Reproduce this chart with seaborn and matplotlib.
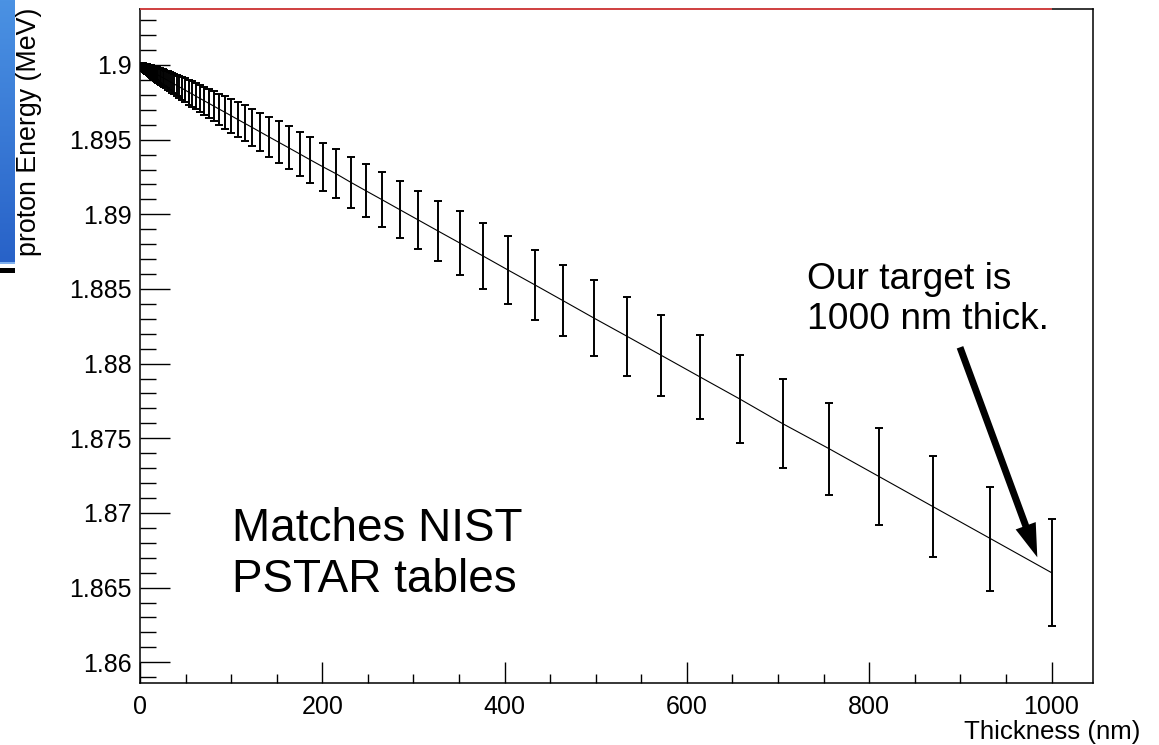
import matplotlib
matplotlib.use("Agg")
import numpy as np
import pandas as pd
import matplotlib.pyplot as plt
import seaborn as sns
from matplotlib.ticker import MultipleLocator, FuncFormatter
from matplotlib.patches import Rectangle
from matplotlib.colors import LinearSegmentedColormap

# ---------------- data ----------------
thickness_nm = [
    1.00, 1.07, 1.15, 1.23, 1.32, 1.42, 1.52, 1.63, 1.75, 1.87,
    2.01, 2.15, 2.31, 2.48, 2.66, 2.85, 3.05, 3.27, 3.51, 3.76,
    4.04, 4.33, 4.64, 4.98, 5.34, 5.72, 6.14, 6.58, 7.05, 7.56,
    8.11, 8.70, 9.33,
    10.0, 10.7, 11.5, 12.3, 13.2, 14.2, 15.2, 16.3, 17.5, 18.7,
    20.1, 21.5, 23.1, 24.8, 26.6, 28.5, 30.5, 32.7, 35.1, 37.6,
    40.4, 43.3, 46.4, 49.8, 53.4, 57.2, 61.4, 65.8, 70.5, 75.6,
    81.1, 87.0, 93.3,
    100, 107, 115, 123, 132, 142, 152, 163, 175, 187,
    201, 215, 231, 248, 266, 285, 305, 327, 351, 376,
    404, 433, 464, 498, 534, 572, 614, 658, 705, 756,
    811, 870, 933, 1000,
]

energy_mev = [
    1.89997, 1.89996, 1.89996, 1.89996, 1.89996, 1.89995, 1.89995, 1.89994, 1.89994, 1.89994,
    1.89993, 1.89993, 1.89992, 1.89992, 1.89991, 1.89990, 1.89990, 1.89989, 1.89988, 1.89987,
    1.89986, 1.89985, 1.89984, 1.89983, 1.89982, 1.89981, 1.89979, 1.89978, 1.89976, 1.89974,
    1.89972, 1.89970, 1.89968,
    1.89966, 1.89964, 1.89961, 1.89958, 1.89955, 1.89952, 1.89948, 1.89945, 1.89941, 1.89936,
    1.89932, 1.89927, 1.89921, 1.89916, 1.89910, 1.89903, 1.89896, 1.89889, 1.89881, 1.89872,
    1.89863, 1.89853, 1.89842, 1.89831, 1.89818, 1.89806, 1.89791, 1.89776, 1.89760, 1.89743,
    1.89724, 1.89704, 1.89683,
    1.89660, 1.89636, 1.89609, 1.89582, 1.89551, 1.89517, 1.89483, 1.89446, 1.89405, 1.89364,
    1.89317, 1.89272, 1.89215, 1.89157, 1.89096, 1.89031, 1.88963, 1.88888, 1.88807, 1.88722,
    1.88626, 1.88528, 1.88422, 1.88305, 1.88184, 1.88055, 1.87912, 1.87763, 1.87598, 1.87430,
    1.87243, 1.87042, 1.86828, 1.86600,
]

energy_err = [
    0.00011, 0.00012, 0.00012, 0.00013, 0.00013, 0.00013, 0.00014, 0.00014, 0.00015, 0.00015,
    0.00016, 0.00017, 0.00017, 0.00018, 0.00018, 0.00019, 0.00020, 0.00020, 0.00021, 0.00022,
    0.00023, 0.00024, 0.00024, 0.00025, 0.00026, 0.00027, 0.00028, 0.00029, 0.00030, 0.00031,
    0.00032, 0.00033, 0.00035,
    0.00036, 0.00037, 0.00038, 0.00040, 0.00041, 0.00043, 0.00044, 0.00046, 0.00047, 0.00049,
    0.00051, 0.00052, 0.00054, 0.00056, 0.00058, 0.00060, 0.00062, 0.00065, 0.00067, 0.00069,
    0.00072, 0.00074, 0.00077, 0.00080, 0.00083, 0.00085, 0.00089, 0.00092, 0.00095, 0.00098,
    0.00102, 0.00105, 0.00109,
    0.00113, 0.00117, 0.00121, 0.00125, 0.00130, 0.00135, 0.00139, 0.00144, 0.00149, 0.00155,
    0.00160, 0.00164, 0.00170, 0.00178, 0.00184, 0.00191, 0.00196, 0.00203, 0.00213, 0.00220,
    0.00227, 0.00235, 0.00240, 0.00252, 0.00264, 0.00269, 0.00282, 0.00292, 0.00299, 0.00307,
    0.00324, 0.00337, 0.00348, 0.00358,
]

x_ticks = [0, 200, 400, 600, 800, 1000]
y_ticks = [1.86, 1.865, 1.87, 1.875, 1.88, 1.885, 1.89, 1.895, 1.9]
x_range = (0, 1045.5)
y_range = (1.85861, 1.90375)

x_label = "Thickness (nm)"
y_label = "proton Energy (MeV)"
note_nist = "Matches NIST\nPSTAR tables"
note_target = "Our target is\n1000 nm thick."

# ---------------- style ----------------
sns.set_theme(style="white")
plt.rcParams["font.family"] = ["Liberation Sans", "DejaVu Sans"]

W, H = 1159, 745
fig = plt.figure(figsize=(W / 100, H / 100), dpi=100)
fig.patch.set_facecolor("white")

# axes frame in pixel geometry of the reference
L, R, T, B = 140, 1093, 9, 683
ax = fig.add_axes([L / W, 1 - B / H, (R - L) / W, (B - T) / H])
ax.set_facecolor("white")

df = pd.DataFrame({"thickness": thickness_nm, "energy": energy_mev, "err": energy_err})

sns.lineplot(data=df, x="thickness", y="energy", color="black", lw=0.8,
             sort=False, estimator=None, ax=ax, zorder=3)
ax.errorbar(df["thickness"], df["energy"], yerr=df["err"], fmt="none",
            ecolor="black", elinewidth=1.4, capsize=2.9, capthick=1.4, zorder=3)

ax.set_xlim(*x_range)
ax.set_ylim(*y_range)

ax.set_xticks(x_ticks)
ax.set_yticks(y_ticks)
ax.xaxis.set_minor_locator(MultipleLocator(50))
ax.yaxis.set_minor_locator(MultipleLocator(0.001))
ax.xaxis.set_major_formatter(FuncFormatter(lambda v, p: f"{v:g}"))
ax.yaxis.set_major_formatter(FuncFormatter(lambda v, p: f"{round(v, 4):g}"))

ax.tick_params(axis="both", which="both", direction="in", bottom=True, left=True,
               top=False, right=False, color="black", labelcolor="black", width=1.0)
ax.tick_params(axis="y", which="major", length=21.6, pad=6.0, labelsize=18)
ax.tick_params(axis="y", which="minor", length=11.3)
ax.tick_params(axis="x", which="major", length=14.9, pad=9.0, labelsize=18)
ax.tick_params(axis="x", which="minor", length=6.7)

for s in ax.spines.values():
    s.set_color("black")
    s.set_linewidth(1.1)
    s.set_visible(True)

# red line along the top frame
ax.hlines(y_range[1], 0, thickness_nm[-1], color="#ee4646", lw=1.2,
          clip_on=False, zorder=6)

# axis titles
ax.set_xlabel(x_label, fontsize=18.6, color="black")
ax.xaxis.set_label_coords((1140 - L) / (R - L), (B - 719.5) / (B - T))
ax.xaxis.label.set_ha("right")
ax.set_ylabel(y_label, fontsize=19.3, color="black", loc="top")
ax.yaxis.set_label_coords((42 - L) / (R - L), (B - 8) / (B - T))

# annotations (va='baseline' on multi-line text aligns the last line)
ax.text((232 - L) / (R - L), (B - 592) / (B - T), note_nist, transform=ax.transAxes,
        fontsize=33, color="black", ha="left", va="baseline")
ax.text((806.7 - L) / (R - L), (B - 329.3) / (B - T), note_target, transform=ax.transAxes,
        fontsize=26.7, color="black", ha="left", va="baseline")
ax.annotate("", xy=((1037.3 - L) / (R - L), (B - 557.3) / (B - T)),
            xytext=((960 - L) / (R - L), (B - 347.3) / (B - T)),
            xycoords="axes fraction", textcoords="axes fraction",
            arrowprops=dict(arrowstyle="simple,head_length=1.21,head_width=0.77,tail_width=0.25",
                            mutation_scale=20, fc="black", ec="black", lw=0,
                            shrinkA=0, shrinkB=0))

# blue slide fragment at the left edge
bax = fig.add_axes([0, 1 - 261.7 / H, 15 / W, 261.7 / H])
grad = np.linspace(0, 1, 256).reshape(-1, 1)
cmap = LinearSegmentedColormap.from_list("slide", ["#4b92e3", "#2862c8"])
bax.imshow(grad, aspect="auto", cmap=cmap)
bax.set_axis_off()
fig.patches.append(Rectangle((0, 1 - 264 / H), 15 / W, 2.3 / H, transform=fig.transFigure,
                             facecolor="#7fb0ee", edgecolor="none"))
fig.patches.append(Rectangle((0, 1 - 272.7 / H), 15 / W, 4.4 / H, transform=fig.transFigure,
                             facecolor="black", edgecolor="none"))

fig.savefig("out.png", dpi=100, facecolor="white")
